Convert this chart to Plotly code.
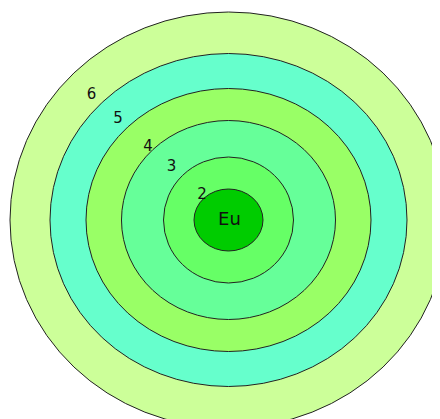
import plotly.graph_objects as go

# Data
labels = ["6", "5", "4", "3", "2", "Eu"]
label_sizes = [15, 15, 15, 15, 15, 18]
radius_x = [218.5, 178.5, 142.5, 107, 65, 34.5]
radius_y = [208, 166.5, 131.5, 99.5, 63, 31]
colors = ["#CCFF99", "#66FFCC", "#99FF66", "#66FF99", "#66FF66", "#00CC00"]
label_x = [91.5, 118, 148, 171.5, 202, 229.5]
label_y = [95, 119.5, 147, 167, 195.5, 220]

cx, cy = 228.5, 220
OFF = 8  # page body margin

fig = go.Figure()
shapes = []
for rx, ry, c in zip(radius_x, radius_y, colors):
    shapes.append(dict(type="circle", xref="x", yref="y",
                       x0=cx - rx, x1=cx + rx, y0=cy - ry, y1=cy + ry,
                       fillcolor=c, line=dict(color="#222222", width=1),
                       layer="below"))

fig.add_trace(go.Scatter(x=label_x, y=label_y, text=labels, mode="text",
                         textfont=dict(family="DejaVu Sans", size=label_sizes, color="#111111"),
                         hoverinfo="skip", showlegend=False))

fig.update_layout(
    width=440, height=419,
    margin=dict(l=0, r=0, t=0, b=0),
    paper_bgcolor="white", plot_bgcolor="white",
    shapes=shapes,
    xaxis=dict(range=[OFF, 440 + OFF], visible=False, fixedrange=True),
    yaxis=dict(range=[419 + OFF, OFF], visible=False, fixedrange=True),
    showlegend=False,
)

fig.write_html("out.html")
